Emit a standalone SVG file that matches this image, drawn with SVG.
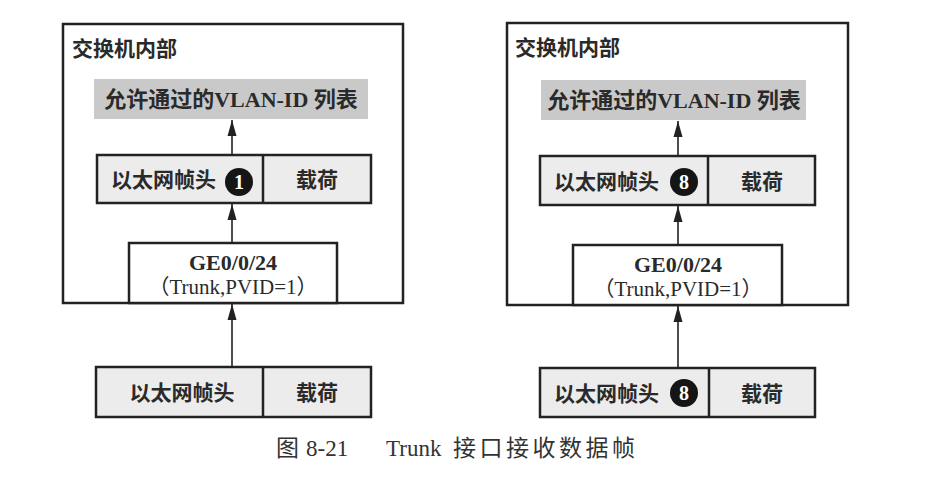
<svg xmlns="http://www.w3.org/2000/svg" width="952" height="492" viewBox="0 0 952 492">
<defs>
<marker id="arr" markerUnits="userSpaceOnUse" markerWidth="16" markerHeight="10" refX="16" refY="5" orient="auto">
<path d="M0,0.5 L16,5 L0,9.5 z" fill="#222"/>
</marker>
<style>
.outer{fill:#fff;stroke:#222;stroke-width:2.5}
.gray{fill:#c9c9c9;stroke:none}
.frame{fill:#ececec;stroke:#222;stroke-width:2.5}
.port{fill:#fff;stroke:#222;stroke-width:2.5}
.t{font-family:"Liberation Serif","Noto Sans CJK SC",serif;font-size:21px;fill:#2a2a2a}
.v{font-size:22px}
.b{font-weight:bold}
.c{text-anchor:middle}
.num{font-family:"Liberation Serif",serif;font-size:20px;font-weight:bold;fill:#fff;text-anchor:middle}
.dot{fill:#151515}
.ln{stroke:#222;stroke-width:1.6;fill:none;marker-end:url(#arr)}
.cap{font-family:"Liberation Serif","Noto Sans CJK SC",serif;font-size:23px;fill:#333}
</style>
</defs>
<rect width="952" height="492" fill="#fff"/>

<!-- Left diagram -->
<g id="left-switch">
<rect class="outer" x="63" y="24" width="340" height="279"/>
<text class="t b" x="72" y="56">交换机内部</text>
</g>
<g id="left-vlan-list">
<rect class="gray" x="94" y="79" width="274" height="40"/>
<text class="t v b c" x="231" y="107">允许通过的VLAN-ID 列表</text>
</g>
<g id="left-inner-frame">
<rect class="frame" x="97" y="155" width="274" height="48"/>
<line x1="263" y1="155" x2="263" y2="203" stroke="#222" stroke-width="2.5"/>
<text class="t b" x="111" y="187">以太网帧头</text>
<circle class="dot" cx="239" cy="182" r="14"/>
<text class="num" x="239" y="189">1</text>
<text class="t b c" x="317" y="187">载荷</text>
</g>
<g id="left-port">
<rect class="port" x="129" y="243" width="208" height="60"/>
<text class="t v b c" x="233" y="270">GE0/0/24</text>
<text class="t c" x="233" y="294">（Trunk,PVID=1）</text>
</g>
<g id="left-outer-frame">
<rect class="frame" x="96" y="367" width="275" height="50"/>
<line x1="263" y1="367" x2="263" y2="417" stroke="#222" stroke-width="2.5"/>
<text class="t b c" x="182" y="400">以太网帧头</text>
<text class="t b c" x="317" y="400">载荷</text>
</g>

<!-- Right diagram -->
<g id="right-switch">
<rect class="outer" x="507" y="23" width="341" height="282"/>
<text class="t b" x="515" y="55">交换机内部</text>
</g>
<g id="right-vlan-list">
<rect class="gray" x="541" y="80" width="265" height="40"/>
<text class="t v b c" x="674" y="108">允许通过的VLAN-ID 列表</text>
</g>
<g id="right-inner-frame">
<rect class="frame" x="540" y="156" width="275" height="49"/>
<line x1="708" y1="156" x2="708" y2="205" stroke="#222" stroke-width="2.5"/>
<text class="t b" x="554" y="189">以太网帧头</text>
<circle class="dot" cx="684" cy="182" r="14"/>
<text class="num" x="684" y="189">8</text>
<text class="t b c" x="762" y="189">载荷</text>
</g>
<g id="right-port">
<rect class="port" x="573" y="245" width="209" height="60"/>
<text class="t v b c" x="678" y="272">GE0/0/24</text>
<text class="t c" x="678" y="296">（Trunk,PVID=1）</text>
</g>
<g id="right-outer-frame">
<rect class="frame" x="540" y="368" width="275" height="49"/>
<line x1="709" y1="368" x2="709" y2="417" stroke="#222" stroke-width="2.5"/>
<text class="t b" x="554" y="401">以太网帧头</text>
<circle class="dot" cx="684" cy="393" r="14"/>
<text class="num" x="684" y="400">8</text>
<text class="t b c" x="762" y="401">载荷</text>
</g>

<g id="connectors">
<line class="ln" x1="232" y1="155" x2="232" y2="120"/>
<line class="ln" x1="232" y1="243" x2="232" y2="204"/>
<line class="ln" x1="232" y1="367" x2="232" y2="304"/>
<line class="ln" x1="678" y1="156" x2="678" y2="121"/>
<line class="ln" x1="678" y1="245" x2="678" y2="206"/>
<line class="ln" x1="678" y1="368" x2="678" y2="306"/>
</g>

<g id="caption">
<text class="cap" x="276" y="456">图</text>
<text class="cap" x="306" y="456">8-21</text>
<text class="cap" x="386" y="456">Trunk</text>
<text class="cap" x="453" y="456" letter-spacing="3.5">接口接收数据帧</text>
</g>
</svg>
